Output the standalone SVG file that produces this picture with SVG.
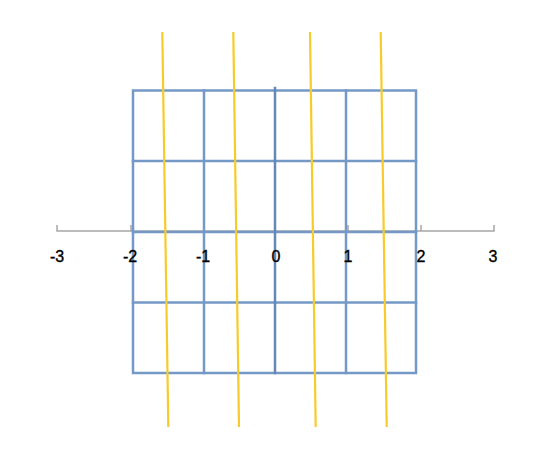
<svg xmlns="http://www.w3.org/2000/svg" width="560" height="467" viewBox="0 0 560 467">
<style>
.axis{stroke:#A6A6A6;stroke-width:1.5;fill:none}
.grid{stroke:#7499C6;stroke-width:2.5;fill:none;stroke-linecap:square}
.mid{stroke:#6587B5}
.yel{stroke:#F7CB2A;stroke-width:2.2;fill:none}
.lbl{font-family:"Liberation Sans",Arial,sans-serif;font-size:16px;fill:#000;stroke:#000;stroke-width:0.35;text-anchor:middle}
</style>
<rect width="560" height="467" fill="#fff"/>
<g id="axis">
<path class="axis" d="M57,225 V231 H494 V225 M131,225 V231 M348,225 V231 M421,225 V231"/>
</g>
<g id="grid">
<rect class="grid" x="133" y="90.5" width="283" height="282.5"/>
<path class="grid" d="M204,90.5 V373 M346,90.5 V373 M133,161 H416 M133,232 H416 M133,302.5 H416"/>
<path class="grid mid" d="M275,88 V373"/>
</g>
<g id="labels">
<text class="lbl" x="57" y="262">-3</text>
<text class="lbl" x="130" y="262">-2</text>
<text class="lbl" x="203" y="262">-1</text>
<text class="lbl" x="276" y="262">0</text>
<text class="lbl" x="348" y="262">1</text>
<text class="lbl" x="421" y="262">2</text>
<text class="lbl" x="493" y="262">3</text>
</g>
<g id="connectors">
<line class="yel" x1="162.3" y1="32" x2="168.3" y2="427"/>
<line class="yel" x1="233.3" y1="32" x2="239" y2="427"/>
<line class="yel" x1="310" y1="32" x2="315.7" y2="427"/>
<line class="yel" x1="380.7" y1="32" x2="386.7" y2="427"/>
</g>
</svg>
